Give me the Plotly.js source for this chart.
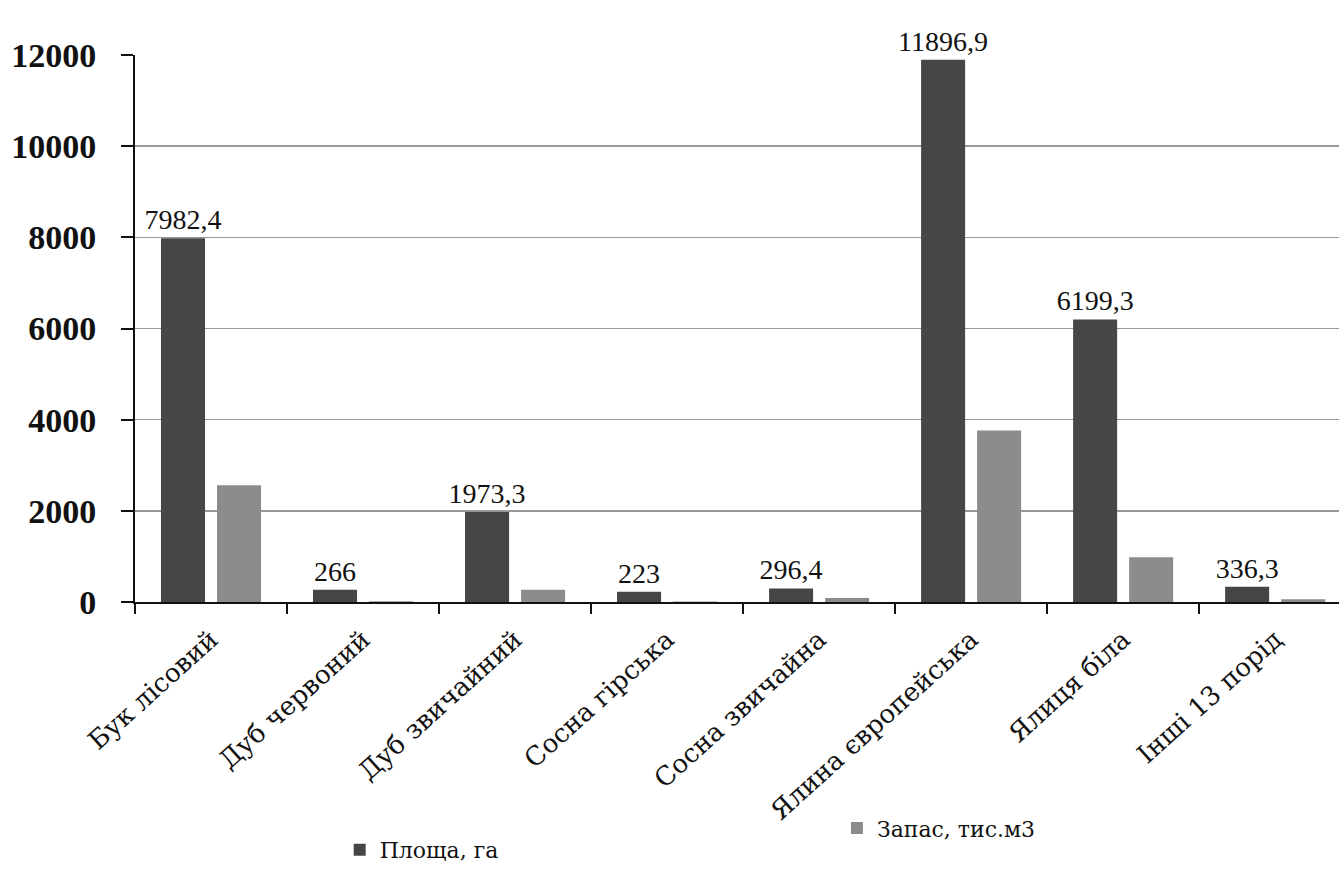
<!DOCTYPE html>
<html>
<head>
<meta charset="utf-8">
<script src="https://cdn.plot.ly/plotly-3.0.1.min.js"></script>
<style>
html,body{margin:0;padding:0;background:#fff;overflow:hidden;}
#chart{width:1339px;height:883px;}
</style>
</head>
<body>
<div id="chart"></div>
<script>
const categories = ["Бук лісовий","Дуб червоний","Дуб звичайний","Сосна гірська","Сосна звичайна","Ялина європейська","Ялиця біла","Інші 13 порід"];
const areaValues = [7982.4, 266, 1973.3, 223, 296.4, 11896.9, 6199.3, 336.3];
const stockValues = [2560, 15, 270, 10, 90, 3760, 980, 60];
const seriesNames = ["Площа, га", "Запас, тис.м3"];
const yTicks = [0, 2000, 4000, 6000, 8000, 10000, 12000];

const serif = "'Liberation Serif', serif";
const cyrSerif = "'DejaVu Serif', serif";
const areaLabels = areaValues.map(v => String(v).replace('.', ','));

const traces = [
  {
    type: 'bar', name: seriesNames[0], x: categories, y: areaValues,
    marker: {color: '#464646'},
    text: areaLabels, textposition: 'outside', cliponaxis: false, constraintext: 'none',
    textfont: {family: serif, size: 28, color: '#111'},
    legend: 'legend'
  },
  {
    type: 'bar', name: seriesNames[1], x: categories, y: stockValues,
    marker: {color: '#8c8c8c'},
    legend: 'legend2'
  }
];

const legendFont = {family: cyrSerif, size: 22, color: '#111'};
const layout = {
  width: 1339, height: 883,
  margin: {l: 135, r: 0, t: 55, b: 281},
  paper_bgcolor: '#fff', plot_bgcolor: '#fff',
  font: {family: serif, color: '#111'},
  barmode: 'group', bargap: 0.263, bargroupgap: 0.214,
  showlegend: true,
  legend: {
    x: 0.17, xanchor: 'left', y: -0.415, yanchor: 'top',
    font: legendFont, itemwidth: 30, bgcolor: 'rgba(0,0,0,0)'
  },
  legend2: {
    x: 0.583, xanchor: 'left', y: -0.375, yanchor: 'top',
    font: legendFont, itemwidth: 30, bgcolor: 'rgba(0,0,0,0)'
  },
  xaxis: {
    type: 'category', range: [-0.5, 7.42],
    showline: true, linecolor: '#111', linewidth: 2,
    ticks: 'outside', tickson: 'boundaries', ticklen: 10, tickwidth: 2, tickcolor: '#111',
    ticklabelstandoff: 10,
    tickangle: -42, tickfont: {family: cyrSerif, size: 26, color: '#111'},
    showgrid: false, zeroline: false, fixedrange: true
  },
  yaxis: {
    range: [0, 12000], tickvals: yTicks, ticktext: yTicks.map(String),
    showline: true, linecolor: '#111', linewidth: 2,
    ticks: 'outside', ticklen: 12, tickwidth: 2, tickcolor: '#111',
    ticklabelstandoff: 18,
    tickfont: {family: serif, size: 34, color: '#111', weight: 'bold'},
    showgrid: true, gridcolor: '#9a9a9a', gridwidth: 1.5,
    zeroline: false, fixedrange: true
  }
};

Plotly.newPlot('chart', traces, layout, {displayModeBar: false, staticPlot: true});
</script>
</body>
</html>
